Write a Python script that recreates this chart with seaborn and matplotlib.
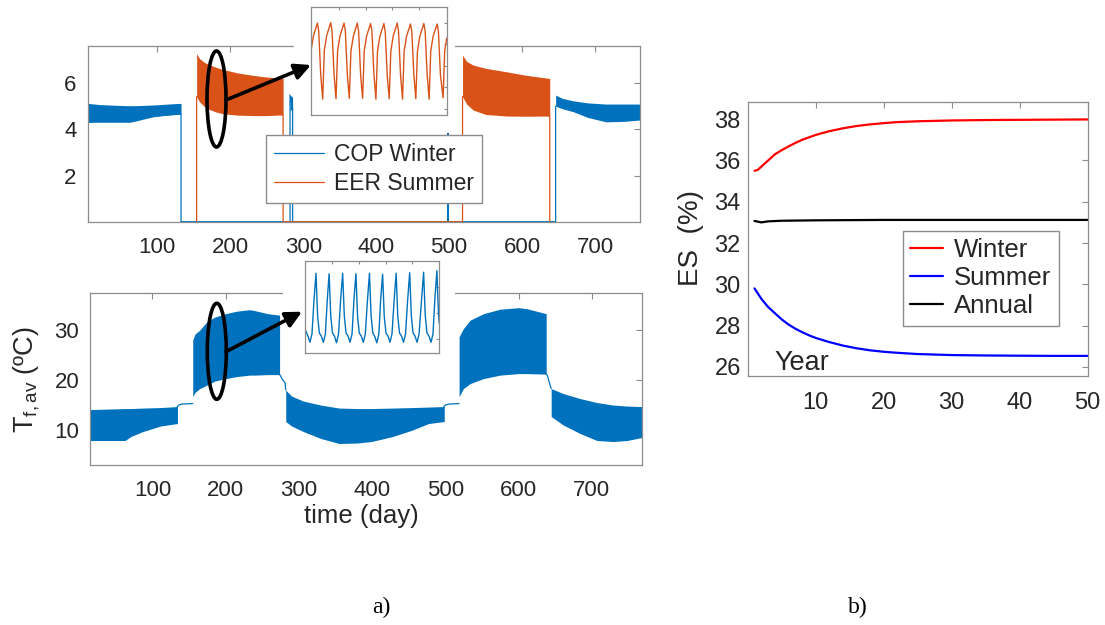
import numpy as np
import pandas as pd
import matplotlib
matplotlib.use("Agg")
import matplotlib.pyplot as plt
import seaborn as sns
from matplotlib.patches import Ellipse, Rectangle

# ---------------- data ----------------
# a) top : COP (winter) / EER (summer) envelopes of the daily oscillation
cop_a_day = [4.7, 20, 40, 58, 62.6, 70, 80, 94.5, 110, 120, 132.6]
cop_a_up = [5.13, 5.08, 5.05, 5.03, 5.03, 5.03, 5.04, 5.06, 5.09, 5.11, 5.13]
cop_a_lo = [4.31, 4.31, 4.31, 4.31, 4.31, 4.36, 4.44, 4.55, 4.62, 4.65, 4.67]
cop_b_day = [282, 283.5, 285.5]
cop_b_up = [5.49, 5.45, 5.40]
cop_b_lo = [4.80, 4.85, 4.90]
cop_c_day = [646, 655, 670, 690, 715, 740, 761.6]
cop_c_up = [5.49, 5.35, 5.24, 5.15, 5.10, 5.10, 5.10]
cop_c_lo = [5.01, 4.90, 4.77, 4.52, 4.33, 4.35, 4.41]
cop_line_day = [4.7, 132.6, 132.6, 282, 282, 285.5, 285.5, 498.5, 498.5, 498.8, 646, 646]
cop_line_val = [4.31, 4.67, 0, 0, 5.49, 4.90, 0, 0, 3.83, 0, 0, 5.01]

eer_a_day = [154, 158, 165, 172, 180, 190, 210, 230, 250, 272.5]
eer_a_up = [7.29, 7.07, 6.90, 6.80, 6.70, 6.60, 6.45, 6.35, 6.27, 6.22]
eer_a_lo = [5.42, 5.20, 4.98, 4.86, 4.76, 4.68, 4.62, 4.60, 4.60, 4.63]
eer_b_day = [518.4, 524, 533, 550, 578.6, 605, 637.9]
eer_b_up = [7.22, 6.95, 6.79, 6.65, 6.50, 6.35, 6.21]
eer_b_lo = [5.42, 5.10, 4.84, 4.65, 4.58, 4.57, 4.58]
eer_line_day = [154, 154, 272.5, 272.5, 518.4, 518.4, 637.9, 637.9]
eer_line_val = [0, 5.42, 4.63, 0, 0, 5.42, 4.58, 0]

# a) bottom : mean fluid temperature envelopes
tf_w1_day = [15.3, 40, 62.6, 70.5, 87, 111, 134]
tf_w1_up = [14.1, 14.2, 14.3, 14.3, 14.4, 14.5, 14.7]
tf_w1_lo = [7.9, 7.9, 7.9, 8.7, 9.7, 10.8, 11.3]
tf_s1_day = [155, 158, 164.5, 174.5, 185, 200, 215, 233, 240, 257.6, 273.6]
tf_s1_up = [28.0, 29.2, 30.0, 31.7, 32.6, 33.3, 33.8, 34.1, 33.9, 33.3, 33.0]
tf_s1_lo = [16.7, 17.5, 18.3, 19.0, 19.8, 20.3, 20.7, 21.0, 21.0, 21.1, 21.1]
tf_w2_day = [282, 290, 306, 330, 355, 380, 399, 428, 455, 477, 498]
tf_w2_up = [18.0, 16.8, 15.8, 15.0, 14.4, 14.3, 14.3, 14.4, 14.5, 14.6, 14.7]
tf_w2_lo = [11.7, 10.8, 9.7, 8.3, 7.3, 7.4, 7.7, 8.7, 10.0, 11.3, 11.7]
tf_s2_day = [518.7, 524.5, 533.7, 552, 574.7, 599.7, 611, 637.6]
tf_s2_up = [28.7, 30.3, 32.0, 33.3, 34.2, 34.5, 34.3, 33.3]
tf_s2_lo = [16.7, 18.3, 19.3, 20.3, 21.0, 21.3, 21.3, 21.2]
tf_w3_day = [644.4, 661, 684, 707, 729, 748, 768]
tf_w3_up = [18.3, 17.3, 16.3, 15.5, 15.0, 14.8, 14.7]
tf_w3_lo = [12.7, 11.0, 9.3, 7.9, 7.7, 7.9, 8.5]
tf_link1_day = [134, 134, 136, 140, 155]
tf_link1_val = [11.3, 14.7, 15.0, 15.2, 15.3]
tf_link2_day = [273.6, 275, 278, 281, 282]
tf_link2_val = [21.1, 20.8, 20.0, 19.5, 18.0]
tf_link3_day = [498, 498, 500, 505, 518.7]
tf_link3_val = [11.7, 14.7, 15.0, 15.2, 15.3]
tf_link4_day = [637.6, 639, 641, 644.4]
tf_link4_val = [21.2, 21.0, 20.0, 18.3]

# insets (zoom on ~10 days)
ins_eer_day = [179.90, 180.08, 180.38, 180.48, 180.63, 180.78,
               180.90, 181.08, 181.38, 181.48, 181.63, 181.78,
               181.90, 182.08, 182.38, 182.48, 182.63, 182.78,
               182.90, 183.08, 183.38, 183.48, 183.63, 183.78,
               183.90, 184.08, 184.38, 184.48, 184.63, 184.78,
               184.90, 185.08, 185.38, 185.48, 185.63, 185.78,
               185.90, 186.08, 186.38, 186.48, 186.63, 186.78,
               186.90, 187.08, 187.38, 187.48, 187.63, 187.78,
               187.90, 188.08, 188.38, 188.48, 188.63, 188.78,
               188.90, 189.08, 189.38, 189.48, 189.63, 189.83,
               189.95, 190.10]
ins_eer_val = [5.85, 6.20, 6.50, 6.32, 5.30, 4.72,
               5.86, 6.21, 6.51, 6.33, 5.31, 4.73,
               5.85, 6.20, 6.50, 6.32, 5.30, 4.74,
               5.84, 6.19, 6.50, 6.31, 5.29, 4.74,
               5.85, 6.20, 6.49, 6.31, 5.30, 4.72,
               5.85, 6.19, 6.49, 6.30, 5.28, 4.73,
               5.84, 6.20, 6.50, 6.31, 5.29, 4.72,
               5.84, 6.19, 6.48, 6.30, 5.29, 4.73,
               5.84, 6.19, 6.49, 6.31, 5.30, 4.72,
               5.85, 6.19, 6.48, 6.30, 5.28, 4.75,
               5.85, 6.15]
ins_tf_day = [179.95, 180.20, 180.35, 180.50, 180.65, 180.80,
              180.92, 181.05, 181.20, 181.35, 181.50, 181.64, 181.78,
              181.90, 182.03, 182.18, 182.33, 182.48, 182.64, 182.79,
              182.91, 183.04, 183.19, 183.34, 183.49, 183.63, 183.78,
              183.90, 184.03, 184.18, 184.33, 184.48, 184.64, 184.79,
              184.91, 185.04, 185.19, 185.34, 185.49, 185.62, 185.77,
              185.89, 186.02, 186.17, 186.32, 186.47, 186.63, 186.78,
              186.90, 187.03, 187.18, 187.33, 187.48, 187.64, 187.79,
              187.91, 188.04, 188.19, 188.34, 188.49, 188.68, 188.83,
              188.95, 189.08, 189.23, 189.38, 189.53, 189.67, 189.82,
              189.94, 190.00]
ins_tf_val = [22.1, 20.6, 19.4, 21.0, 27.5, 32.7,
              24.5, 21.2, 20.6, 19.4, 21.0, 27.5, 32.6,
              24.5, 21.2, 20.6, 19.3, 21.0, 27.6, 32.7,
              24.6, 21.2, 20.6, 19.4, 21.0, 27.5, 32.6,
              24.5, 21.2, 20.6, 19.4, 21.0, 27.5, 32.7,
              24.5, 21.2, 20.5, 19.3, 21.0, 27.4, 32.5,
              24.5, 21.2, 20.6, 19.4, 21.0, 27.5, 32.7,
              24.5, 21.2, 20.6, 19.4, 21.0, 27.6, 32.8,
              24.6, 21.2, 20.6, 19.4, 21.0, 27.7, 32.9,
              24.6, 21.2, 20.6, 19.4, 21.0, 27.8, 33.2,
              24.8, 23.0]

# b) energy saving vs year
win_year = [1, 1.5, 2, 3, 4, 5, 6, 7, 8, 9, 10, 12, 14, 16, 18, 20, 22, 25, 30, 35, 40, 45, 50]
win_es = [35.5, 35.55, 35.7, 36.0, 36.3, 36.5, 36.68, 36.85, 37.0, 37.12, 37.24, 37.42, 37.56,
          37.67, 37.75, 37.81, 37.86, 37.9, 37.94, 37.96, 37.97, 37.98, 37.99]
sum_year = [1, 2, 3, 4, 5, 6, 7, 8, 9, 10, 12, 14, 16, 18, 20, 22, 25, 30, 35, 40, 45, 50]
sum_es = [29.8, 29.3, 28.9, 28.6, 28.3, 28.05, 27.85, 27.68, 27.53, 27.4, 27.2, 27.03, 26.9,
          26.8, 26.73, 26.68, 26.62, 26.57, 26.55, 26.54, 26.53, 26.53]
ann_year = [1, 2, 3, 5, 10, 20, 30, 40, 50]
ann_es = [33.07, 33.0, 33.05, 33.08, 33.1, 33.12, 33.12, 33.12, 33.12]

# ---------------- style ----------------
sns.set_theme(style="white")
plt.rcParams["font.family"] = ["Liberation Sans", "DejaVu Sans"]
plt.rcParams["mathtext.fontset"] = "custom"
plt.rcParams["mathtext.rm"] = "Liberation Sans"
plt.rcParams["mathtext.it"] = "Liberation Sans:italic"

BLUE = "#0072BD"
ORANGE = "#D95319"
SPINE = "#8c8c8c"
TXT = "#262626"
W, H = 1105, 625


def rect(l, t, r, b):
    return [l / W, 1 - b / H, (r - l) / W, (b - t) / H]


def fxy(x, y):
    return x / W, 1 - y / H


def style(ax, fs, xpad, ypad, tl=4):
    ax.tick_params(direction="in", length=tl, width=0.8, color=SPINE,
                   top=True, right=True, labelsize=fs, labelcolor=TXT)
    ax.tick_params(axis="x", pad=xpad)
    ax.tick_params(axis="y", pad=ypad)
    for s in ax.spines.values():
        s.set_color(SPINE)
        s.set_linewidth(0.9)
    ax.set_xlabel("")
    ax.set_ylabel("")


fig = plt.figure(figsize=(11.05, 6.25), dpi=100)

# ---- top panel ----
ax1 = fig.add_axes(rect(87.7, 45.7, 640, 221.7))
for d, u, l in [(cop_a_day, cop_a_up, cop_a_lo), (cop_b_day, cop_b_up, cop_b_lo),
                (cop_c_day, cop_c_up, cop_c_lo)]:
    ax1.fill_between(d, l, u, color=BLUE, lw=0)
for d, u, l in [(eer_a_day, eer_a_up, eer_a_lo), (eer_b_day, eer_b_up, eer_b_lo)]:
    ax1.fill_between(d, l, u, color=ORANGE, lw=0)
sns.lineplot(x=cop_line_day, y=cop_line_val, sort=False, estimator=None, color=BLUE,
             lw=0.9, ax=ax1, label="COP Winter")
sns.lineplot(x=eer_line_day, y=eer_line_val, sort=False, estimator=None, color=ORANGE,
             lw=0.9, ax=ax1, label="EER Summer")
ax1.set_xlim(4.7, 761.6)
ax1.set_ylim(0, 7.63)
ax1.set_xticks([100, 200, 300, 400, 500, 600, 700])
ax1.set_yticks([2, 4, 6])
style(ax1, 16, 11, 8)
ax1.legend(loc="upper left", bbox_to_anchor=fxy(265.7, 135), bbox_transform=fig.transFigure,
           fontsize=16.5, frameon=True, fancybox=False, edgecolor=SPINE, framealpha=1,
           handlelength=2.2, handletextpad=0.45, borderpad=0.35, labelspacing=0.25,
           borderaxespad=0)

# ---- bottom panel ----
ax2 = fig.add_axes(rect(90.4, 292.7, 641.7, 465))
for d, u, l in [(tf_w1_day, tf_w1_up, tf_w1_lo), (tf_s1_day, tf_s1_up, tf_s1_lo),
                (tf_w2_day, tf_w2_up, tf_w2_lo), (tf_s2_day, tf_s2_up, tf_s2_lo),
                (tf_w3_day, tf_w3_up, tf_w3_lo)]:
    ax2.fill_between(d, l, u, color=BLUE, lw=0)
for d, v in [(tf_link1_day, tf_link1_val), (tf_link2_day, tf_link2_val),
             (tf_link3_day, tf_link3_val), (tf_link4_day, tf_link4_val)]:
    sns.lineplot(x=d, y=v, sort=False, estimator=None, color=BLUE, lw=0.9, ax=ax2)
ax2.set_xlim(15.3, 768)
ax2.set_ylim(3, 37.5)
ax2.set_xticks([100, 200, 300, 400, 500, 600, 700])
ax2.set_yticks([10, 20, 30])
style(ax2, 16, 11, 8)

fig.text(*fxy(361, 516), "time (day)", fontsize=18.5, color=TXT, ha="center", va="center")
fig.text(*fxy(27, 380), r"T$_{\mathrm{f,av}}$ (ºC)", fontsize=19.5, color=TXT,
         ha="center", va="center", rotation=90)

# ---- white backgrounds behind insets ----
fig.add_artist(Rectangle(fxy(294, 128), 161 / W, 128 / H, transform=fig.transFigure,
                         facecolor="white", edgecolor="none", zorder=1))
fig.add_artist(Rectangle(fxy(283, 358), 172 / W, 103 / H, transform=fig.transFigure,
                         facecolor="white", edgecolor="none", zorder=1))

# ---- insets ----
axi1 = fig.add_axes(rect(311, 7.3, 446.7, 115), zorder=2)
sns.lineplot(x=ins_eer_day, y=ins_eer_val, sort=False, estimator=None, color=ORANGE,
             lw=1.0, ax=axi1)
axi1.set_xlim(179.9, 190.1)
axi1.set_ylim(4.35, 6.87)
axi1.set_xticks([182, 184, 186, 188])
axi1.set_yticks([4.5, 5.0, 5.5, 6.0, 6.5])
style(axi1, 1, 1, 1, tl=2)
axi1.set_xticklabels([])
axi1.set_yticklabels([])

axi2 = fig.add_axes(rect(304.6, 261.3, 439.3, 352.7), zorder=2)
sns.lineplot(x=ins_tf_day, y=ins_tf_val, sort=False, estimator=None, color=BLUE,
             lw=1.0, ax=axi2)
axi2.set_xlim(179.95, 190.0)
axi2.set_ylim(17.4, 35)
axi2.set_xticks([182, 184, 186, 188])
axi2.set_yticks([20, 25, 30])
style(axi2, 1, 1, 1, tl=2)
axi2.set_xticklabels([])
axi2.set_yticklabels([])

# ---- right panel ----
ax3 = fig.add_axes(rect(747.7, 102.3, 1087.7, 375.5))
df = pd.concat([
    pd.DataFrame({"Year": win_year, "ES": win_es, "Season": "Winter"}),
    pd.DataFrame({"Year": sum_year, "ES": sum_es, "Season": "Summer"}),
    pd.DataFrame({"Year": ann_year, "ES": ann_es, "Season": "Annual"}),
])
sns.lineplot(data=df, x="Year", y="ES", hue="Season",
             hue_order=["Winter", "Summer", "Annual"],
             palette={"Winter": "#ff0000", "Summer": "#0000ff", "Annual": "#000000"},
             lw=1.6, ax=ax3)
ax3.set_xlim(0, 50)
ax3.set_ylim(25.58, 38.82)
ax3.set_xticks([10, 20, 30, 40, 50])
ax3.set_yticks([26, 28, 30, 32, 34, 36, 38])
style(ax3, 17, 12, 5)
h, l = ax3.get_legend_handles_labels()
ax3.legend(h, l, loc="upper left", bbox_to_anchor=fxy(902.7, 230.7),
           bbox_transform=fig.transFigure, fontsize=18.5, frameon=True, fancybox=False,
           edgecolor=SPINE, framealpha=1, handlelength=1.25, handletextpad=0.45,
           borderpad=0.3, labelspacing=0.15, borderaxespad=0)
ax3.text(4.0, 25.87, "Year", fontsize=19.5, color=TXT, ha="left", va="baseline")
fig.text(*fxy(691, 237.5), "ES  (%)", fontsize=20, color=TXT, ha="center", va="center",
         rotation=90)

# ---- panel letters ----
fig.text(*fxy(381, 607), "a)", fontsize=17, family="Liberation Serif", color="black",
         ha="center", va="center")
fig.text(*fxy(858, 607), "b)", fontsize=17, family="Liberation Serif", color="black",
         ha="center", va="center")

# ---- ellipses and arrows ----
ov = fig.add_axes([0, 0, 1, 1], zorder=3)
ov.set_xlim(0, W)
ov.set_ylim(H, 0)
ov.axis("off")
ov.patch.set_alpha(0)
for cx, cy in [(216.5, 99), (216.8, 351.3)]:
    ov.add_patch(Ellipse((cx, cy), width=19, height=96, fill=False, ec="black", lw=2.6))
ov.annotate("", xy=(311, 65), xytext=(226, 100),
            arrowprops=dict(arrowstyle="-|>", color="black", lw=2.6, mutation_scale=24,
                            shrinkA=0, shrinkB=0))
ov.annotate("", xy=(302, 311.7), xytext=(226, 351.7),
            arrowprops=dict(arrowstyle="-|>", color="black", lw=2.6, mutation_scale=24,
                            shrinkA=0, shrinkB=0))

fig.savefig("out.png", dpi=100, facecolor="white")
